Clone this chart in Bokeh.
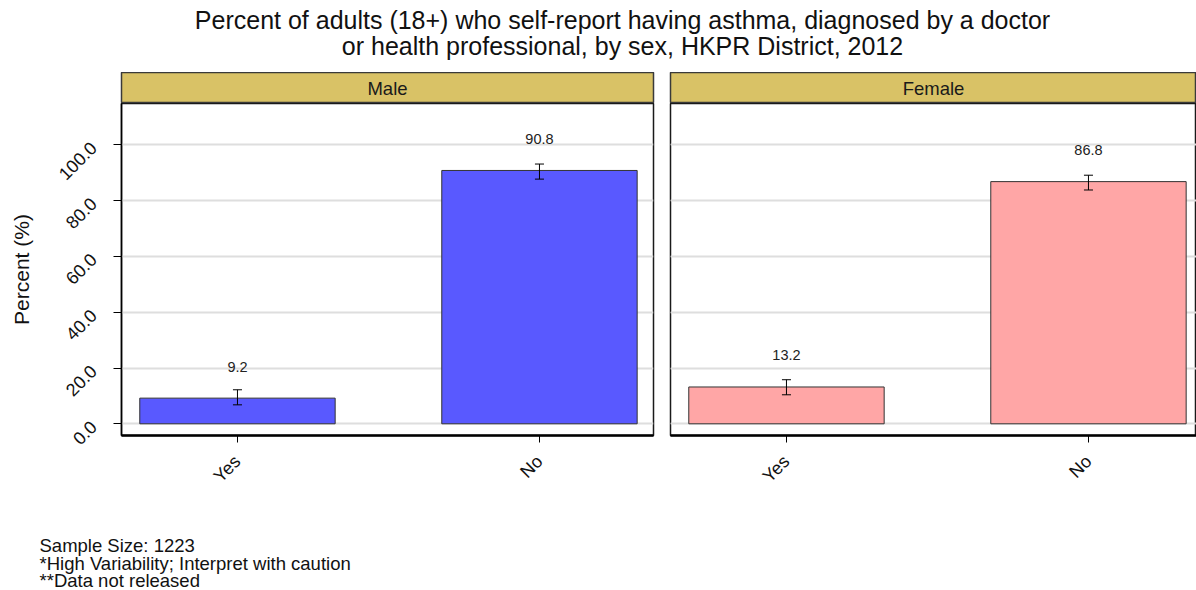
from bokeh.plotting import figure
from bokeh.models import Range1d, FixedTicker, ColumnDataSource, Grid
from bokeh.layouts import column, row
from bokeh.embed import file_html
from bokeh.resources import INLINE
from bokeh.core.properties import value

FONT = "Liberation Sans"

# ---------------- data ----------------
title_lines = [
    "Percent of adults (18+) who self-report having asthma, diagnosed by a doctor",
    "or health professional, by sex, HKPR District, 2012",
]
panels = ["Male", "Female"]
categories = ["Yes", "No"]
male_pct = [9.2, 90.8]
male_lo = [6.8, 87.7]
male_hi = [12.2, 93.1]
female_pct = [13.2, 86.8]
female_lo = [10.4, 83.8]
female_hi = [15.8, 89.1]
y_ticks = [0, 20, 40, 60, 80, 100]
y_tick_labels = ["0.0", "20.0", "40.0", "60.0", "80.0", "100.0"]
y_label = "Percent (%)"
footnotes = [
    "Sample Size: 1223",
    "*High Variability; Interpret with caution",
    "**Data not released",
]
panel_colors = ["#5959FF", "#FFA6A6"]
strip_color = "#D9C266"

# ---------------- layout constants ----------------
TOTAL_W = 1196
TITLE_H = 72
STRIP_H = 31
PANEL_H = 397
FRAME_H = 332
FOOT_H = 90
Y_MIN, Y_MAX = -4.19, 114.8
X_MIN = 0.616
PX_PER_UNIT = 302.0
BAR_W = 0.647
CAP_W = 0.03
LABEL_OFFSET = 11.3

positions = list(range(1, len(categories) + 1))


def blank(width, height):
    p = figure(width=width, height=height, x_range=Range1d(0, width), y_range=Range1d(height, 0),
               output_backend="svg", toolbar_location=None, x_axis_location=None,
               y_axis_location=None, min_border=0)
    p.outline_line_color = None
    p.xgrid.visible = False
    p.ygrid.visible = False
    return p


# title
tfig = blank(TOTAL_W, TITLE_H)
tfig.text(x=[622, 622], y=[19.3, 45.3], text=title_lines, text_align="center",
          text_baseline="middle", text_font=value(FONT), text_font_size="25px",
          text_color="#111111")


def make_strip(name, width, b_left, b_right):
    s = figure(width=width, height=STRIP_H, x_range=Range1d(0, 1), y_range=Range1d(0, 1),
               output_backend="svg", toolbar_location=None, x_axis_location=None,
               y_axis_location=None, min_border_left=b_left, min_border_right=b_right,
               min_border_top=0, min_border_bottom=0)
    s.xgrid.visible = False
    s.ygrid.visible = False
    s.background_fill_color = strip_color
    s.border_fill_color = "white"
    s.outline_line_color = "#3a3a3a"
    s.outline_line_width = 1.5
    s.text(x=[0.5], y=[0.5], text=[name], text_align="center", text_baseline="middle",
           text_font=value(FONT), text_font_size="18.5px", text_color="#1a1a1a")
    return s


def make_panel(pct, lo, hi, color, width, b_left, b_right, show_y):
    frame_w = width - b_left - b_right
    x_max = X_MIN + frame_w / PX_PER_UNIT
    p = figure(width=width, height=PANEL_H, x_range=Range1d(X_MIN, x_max),
               y_range=Range1d(Y_MIN, Y_MAX), output_backend="svg", toolbar_location=None,
               min_border_left=b_left, min_border_right=b_right, min_border_top=0,
               min_border_bottom=PANEL_H - FRAME_H,
               y_axis_location="left" if show_y else None)
    p.background_fill_color = "white"
    p.border_fill_color = "white"
    p.outline_line_color = "#1a1a1a"
    p.outline_line_width = 1.5
    p.xgrid.visible = False
    if show_y:
        p.ygrid.visible = False
    p.add_layout(Grid(dimension=1, ticker=FixedTicker(ticks=y_ticks),
                      grid_line_color="#DEDEDE", grid_line_width=1.8))

    src = ColumnDataSource(dict(x=positions, top=pct, lo=lo, hi=hi,
                                lab=["%.1f" % v for v in pct],
                                ly=[v + LABEL_OFFSET for v in pct],
                                xl=[x - CAP_W / 2 for x in positions],
                                xr=[x + CAP_W / 2 for x in positions]))
    p.vbar(x="x", top="top", bottom=0, width=BAR_W, source=src, fill_color=color,
           line_color="#333333", line_width=1)
    p.segment(x0="x", x1="x", y0="lo", y1="hi", source=src, line_color="black", line_width=1)
    p.segment(x0="xl", x1="xr", y0="lo", y1="lo", source=src, line_color="black", line_width=1)
    p.segment(x0="xl", x1="xr", y0="hi", y1="hi", source=src, line_color="black", line_width=1)
    p.text(x="x", y="ly", text="lab", source=src, text_align="center", text_baseline="middle",
           text_font=value(FONT), text_font_size="14.5px", text_color="#222222")

    # x axis
    xa = p.xaxis[0]
    xa.ticker = FixedTicker(ticks=positions)
    xa.major_label_overrides = {pos: c for pos, c in zip(positions, categories)}
    xa.major_label_orientation = 0.785398
    xa.major_label_text_font = FONT
    xa.major_label_text_font_size = "18px"
    xa.major_label_text_color = "#111111"
    xa.major_label_standoff = 16
    xa.axis_line_color = "black"
    xa.axis_line_width = 2.5
    xa.major_tick_line_color = "black"
    xa.major_tick_out = 7
    xa.major_tick_in = 0
    xa.minor_tick_line_color = None

    if show_y:
        ya = p.yaxis[0]
        ya.ticker = FixedTicker(ticks=y_ticks)
        ya.major_label_overrides = {t: s for t, s in zip(y_ticks, y_tick_labels)}
        ya.major_label_orientation = 0.785398
        ya.major_label_text_font = FONT
        ya.major_label_text_font_size = "18px"
        ya.major_label_text_color = "#111111"
        ya.major_label_standoff = 20
        ya.axis_line_color = "black"
        ya.axis_line_width = 1.5
        ya.major_tick_line_color = "black"
        ya.major_tick_out = 8
        ya.major_tick_in = 0
        ya.minor_tick_line_color = None
        ya.axis_label = y_label
        ya.axis_label_text_font = FONT
        ya.axis_label_text_font_size = "21px"
        ya.axis_label_text_font_style = "normal"
        ya.axis_label_text_color = "#111111"
        ya.axis_label_standoff = 16
    return p


male_strip = make_strip(panels[0], 661, 121, 8)
female_strip = make_strip(panels[1], 535, 9, 0)
male = make_panel(male_pct, male_lo, male_hi, panel_colors[0], 661, 121, 8, True)
female = make_panel(female_pct, female_lo, female_hi, panel_colors[1], 535, 9, 0, False)

ffig = blank(600, FOOT_H)
ffig.text(x=[39, 39, 39], y=[44.8, 62.6, 80.2], text=footnotes, text_align="left",
          text_baseline="middle", text_font=value(FONT), text_font_size="18.5px",
          text_color="#111111")

layout = column(tfig, row(column(male_strip, male), column(female_strip, female)), ffig)
open("out.html", "w").write(file_html(layout, INLINE))
